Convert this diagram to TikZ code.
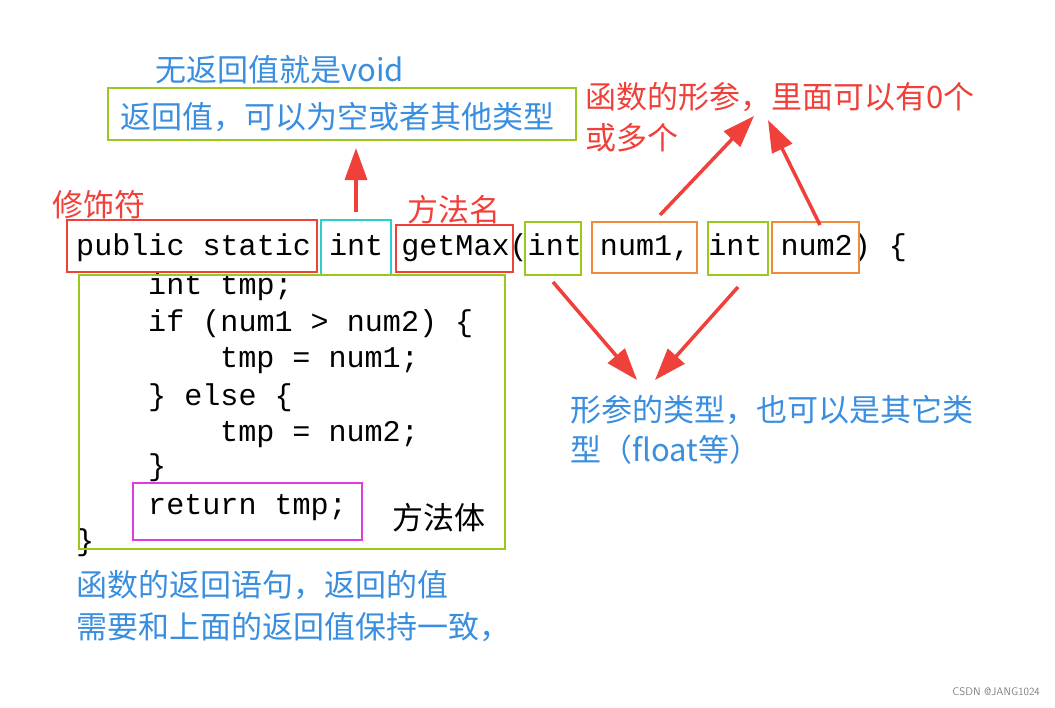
\documentclass[tikz,border=0pt]{standalone}
\usepackage{fontspec}
\setmonofont{Liberation Mono}
\newfontfamily\cjk{Noto Sans CJK SC}
\usetikzlibrary{arrows.meta}
\definecolor{myred}{HTML}{F0403A}
\definecolor{myblue}{HTML}{3A8EE0}
\definecolor{mygreen}{HTML}{9CC81E}
\definecolor{mycyan}{HTML}{2CCFD0}
\definecolor{myorange}{HTML}{F08A3C}
\definecolor{mymag}{HTML}{E03CE0}
\tikzset{
 code/.style={anchor=west,inner sep=0,font=\fontsize{30.1}{31}\selectfont\ttfamily},
 lab/.style={anchor=west,inner sep=0,font=\fontsize{31}{33}\selectfont\cjk},
 bx/.style={draw,line width=2.2pt},
 arr/.style={myred,line width=3.5pt,-{Triangle[length=32pt,width=22pt]}}
}
\begin{document}
\begin{tikzpicture}[x=1pt,y=-1pt]
\useasboundingbox (0,0) rectangle (1055,707);
% code
\node[code] (l1) at (76,248) {public static int getMax(int num1, int num2) \{};
\node[code] (l2) at (148,287) {int tmp;};
\node[code] (l3) at (148,324) {if (num1 > num2) \{};
\node[code] (l4) at (220,361) {tmp = num1;};
\node[code] (l5) at (148,398) {\} else \{};
\node[code] (l6) at (220,435) {tmp = num2;};
\node[code] (l7) at (148,468) {\}};
\node[code] (l8) at (148,508) {return tmp;};
\node[code] (l9) at (76,543) {\}};
% boxes
\draw[bx,myred] (67,220) rectangle (317,272);
\draw[bx,mycyan] (321,220) rectangle (391,275);
\draw[bx,myred] (396,225) rectangle (513,272);
\draw[bx,mygreen] (525,222) rectangle (581,275);
\draw[bx,myorange] (592,222) rectangle (697,273);
\draw[bx,mygreen] (708,222) rectangle (768,275);
\draw[bx,myorange] (772,222) rectangle (859,273);
\draw[bx,mygreen] (79,275) rectangle (505,549);
\draw[bx,mymag] (133,483) rectangle (362,540);
\draw[bx,mygreen] (108,88) rectangle (576,140);
% labels
\node[lab,myblue] (t1) at (155,70) {无返回值就是void};
\node[lab,myblue] (t2) at (120,117) {返回值，可以为空或者其他类型};
\node[lab,myred] (t3) at (585,97) {函数的形参，里面可以有0个};
\node[lab,myred] (t4) at (585,138) {或多个};
\node[lab,myred] (t5) at (52,205) {修饰符};
\node[lab,myred] (t6) at (407,210) {方法名};
\node[lab,myblue] (t7) at (570,410) {形参的类型，也可以是其它类};
\node[lab,myblue] (t8) at (570,450) {型（float等）};
\node[lab,black] (t9) at (392,518) {方法体};
\node[lab,myblue] (t10) at (76,585) {函数的返回语句，返回的值};
\node[lab,myblue] (t11) at (76,627) {需要和上面的返回值保持一致，};
\node[anchor=east,inner sep=0,font=\fontsize{11}{12}\selectfont\sffamily,gray] (wm) at (1040,692) {CSDN @JANG1024};
% arrows
\coordinate (a1s) at (356,212); \coordinate (a1e) at (356,148);
\coordinate (a2s) at (660,215); \coordinate (a2e) at (754,116);
\coordinate (a3s) at (820,225); \coordinate (a3e) at (768,120);
\coordinate (a4s) at (553,282); \coordinate (a4e) at (637,380);
\coordinate (a5s) at (738,287); \coordinate (a5e) at (655,380);
\draw[arr] (a1s) -- (a1e);
\draw[arr] (a2s) -- (a2e);
\draw[arr] (a3s) -- (a3e);
\draw[arr] (a4s) -- (a4e);
\draw[arr] (a5s) -- (a5e);
\end{tikzpicture}
\end{document}
